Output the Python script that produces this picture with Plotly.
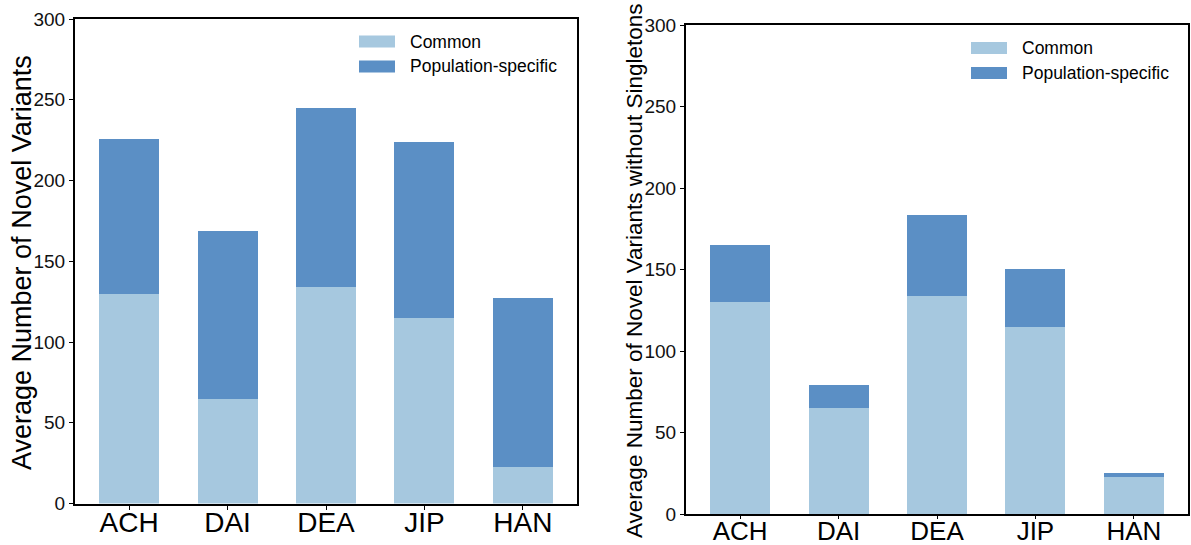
import plotly.graph_objects as go
from plotly.subplots import make_subplots

# Populations and average counts of novel variants per individual
populations = ["ACH", "DAI", "DEA", "JIP", "HAN"]
common_all = [130, 65, 134, 115, 22.5]
specific_all = [96, 103.5, 111, 109, 104.5]
common_nosingle = [130, 65, 134, 115, 22.5]
specific_nosingle = [35, 14, 49.5, 35.5, 2.5]
y_ticks = [0, 50, 100, 150, 200, 250, 300]

LIGHT = "#a6c8df"
DARK = "#5b8fc5"
FONT = "Liberation Sans, Arial, sans-serif"
W, H = 1191, 545


def px(x):
    return x / W


def py(y):
    return 1 - y / H


fig = make_subplots(rows=1, cols=2)

for col, (com, spec) in enumerate(
    [(common_all, specific_all), (common_nosingle, specific_nosingle)], start=1
):
    fig.add_trace(go.Bar(x=populations, y=com, name="Common",
                         marker=dict(color=LIGHT, line=dict(width=0)),
                         showlegend=False), row=1, col=col)
    fig.add_trace(go.Bar(x=populations, y=spec, name="Population-specific",
                         marker=dict(color=DARK, line=dict(width=0)),
                         showlegend=False), row=1, col=col)

axis_common = dict(showline=True, linecolor="black", linewidth=2, mirror=True,
                   showgrid=False, zeroline=False, ticks="outside",
                   tickwidth=1, tickcolor="black", automargin=False)

fig.update_layout(
    template="none",
    width=W, height=H, barmode="stack", bargap=0.39,
    margin=dict(l=0, r=0, t=0, b=0),
    plot_bgcolor="white", paper_bgcolor="white",
    font=dict(family=FONT, color="black"),
    xaxis=dict(domain=[px(75), px(577)], range=[-0.55, 4.55], ticklen=4,
               tickfont=dict(size=28), ticklabelstandoff=-11, **axis_common),
    yaxis=dict(domain=[py(503.5), py(19)], range=[0, 300], tickvals=y_ticks,
               ticklen=4, tickfont=dict(size=19, color="#111"), **axis_common),
    xaxis2=dict(domain=[px(686), px(1188)], range=[-0.55, 4.55], ticklen=3,
                tickfont=dict(size=26), ticklabelstandoff=-10, **axis_common),
    yaxis2=dict(domain=[py(514), py(25)], range=[0, 300], tickvals=y_ticks,
                ticklen=4, tickfont=dict(size=19, color="#111"), **axis_common),
)

# Axis titles
fig.add_annotation(xref="paper", yref="paper", x=px(22), y=py(263),
                   text="Average Number of Novel Variants", textangle=-90,
                   showarrow=False, xanchor="center", yanchor="middle",
                   font=dict(size=27, color="black"))
fig.add_annotation(xref="paper", yref="paper", x=px(634), y=py(271),
                   text="Average Number of Novel Variants without Singletons",
                   textangle=-90, showarrow=False, xanchor="center",
                   yanchor="middle", font=dict(size=22.5, color="black"))

# Legends with wide colour patches, one per panel
legend_items = [("Common", LIGHT), ("Population-specific", DARK)]
for x0, y0 in [(359, 41.5), (971, 48)]:
    for i, (label, color) in enumerate(legend_items):
        yc = y0 + i * 25
        fig.add_shape(type="rect", xref="paper", yref="paper",
                      x0=px(x0), x1=px(x0 + 36), y0=py(yc + 6), y1=py(yc - 6),
                      fillcolor=color, line=dict(width=0))
        fig.add_annotation(xref="paper", yref="paper", x=px(x0 + 49), y=py(yc),
                           text=label, showarrow=False, xanchor="left",
                           yanchor="middle", font=dict(size=17.5, color="black"))

fig.write_html("out.html")
